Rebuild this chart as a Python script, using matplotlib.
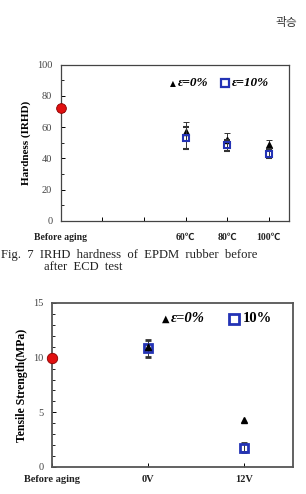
import matplotlib.pyplot as plt
import numpy as np

# top chart: hardness
hard_labels = ['Before aging', '', '', '60\u2103', '80\u2103', '100\u2103']
hard_before = 72
hard_pos = [3, 4, 5]
hard_tri = [57, 51.5, 48.5]
hard_tri_err = [6, 4.5, 3]
hard_sq = [53, 48.5, 43]
hard_sq_err = [7, 3.5, 3]

# bottom chart: tensile strength
ts_labels = ['Before aging', '0V', '12V']
ts_before = 10
ts_pos = [1, 2]
ts_tri = [11.0, 4.3]
ts_tri_err = [0.3, 0.15]
ts_sq = [10.85, 1.75]
ts_sq_err = [0.8, 0.4]

serif = ['Liberation Serif', 'Noto Sans CJK KR', 'DejaVu Sans']
blue = '#2433b5'
red = '#e01010'

fig = plt.figure(figsize=(3.06, 4.94), dpi=100)

# header and caption
fig.text(0.90, 0.955, '\uacfd\uc2b9', fontsize=8.5, family='Noto Sans CJK KR',
         color='#333333', ha='left', va='center')
fig.text(0.004, 0.483, 'Fig.  7  IRHD  hardness  of  EPDM  rubber  before',
         fontsize=9.1, family=serif, color='#222222', ha='left', va='center')
fig.text(0.145, 0.459, 'after  ECD  test', fontsize=9.1, family=serif,
         color='#222222', ha='left', va='center')

# ---- top panel ----
ax1 = fig.add_axes([0.198, 0.553, 0.746, 0.316])
ax1.errorbar(hard_pos, hard_tri, yerr=hard_tri_err, fmt='^', color='black',
             ms=4, elinewidth=0.7, capsize=2, capthick=0.7, ecolor='#333333', zorder=3)
ax1.errorbar(hard_pos, hard_sq, yerr=hard_sq_err, fmt='s', mfc='none', mec=blue,
             mew=1.5, ms=5, elinewidth=0.7, capsize=2, capthick=0.7, ecolor='#333333', zorder=4)
ax1.plot([0], [hard_before], 'o', color=red, mec='#8a0000', mew=0.6, ms=7, clip_on=False, zorder=5)
ax1.set_xlim(0, 5.48)
ax1.set_ylim(0, 100)
ax1.set_xticks(range(6))
ax1.set_xticklabels(hard_labels, fontsize=7, family=serif, fontweight='bold', color='#222222')
ax1.set_yticks(np.arange(0, 101, 20))
ax1.set_yticks(np.arange(0, 101, 10), minor=True)
ax1.set_yticklabels([str(v) for v in range(0, 101, 20)], fontsize=7.5, family=serif, color='#444444')
ax1.tick_params(direction='in', length=3, width=0.7, pad=6)
ax1.tick_params(axis='x', pad=9)
ax1.tick_params(which='minor', direction='in', length=2, width=0.6)
ax1.set_ylabel('Hardness (IRHD)', fontsize=8, family=serif, fontweight='bold', labelpad=4)
for s in ax1.spines.values():
    s.set_color('#444444')
    s.set_linewidth(0.9)
ax1.text(0.49, 0.88, '\u25b2', transform=ax1.transAxes, fontsize=5.5, ha='center', va='center',
         family='DejaVu Sans')
ax1.text(0.512, 0.88, '\u03b5=0%', transform=ax1.transAxes, fontsize=9.5,
         family=serif, fontweight='bold', style='italic', ha='left', va='center')
ax1.plot([0.72], [0.88], 's', mfc='none', mec=blue, mew=1.6, ms=5.5, transform=ax1.transAxes)
ax1.text(0.75, 0.88, '\u03b5=10%', transform=ax1.transAxes, fontsize=9.5,
         family=serif, fontweight='bold', style='italic', ha='left', va='center')

# ---- bottom panel ----
ax2 = fig.add_axes([0.170, 0.0547, 0.788, 0.332])
ax2.errorbar(ts_pos, ts_sq, yerr=ts_sq_err, fmt='s', mfc='none', mec=blue,
             mew=2, ms=6, elinewidth=0.7, capsize=2, capthick=0.7, ecolor='#333333', zorder=3)
ax2.errorbar(ts_pos, ts_tri, yerr=ts_tri_err, fmt='^', color='black',
             ms=5, elinewidth=0.7, capsize=0, ecolor='#333333', zorder=4)
ax2.plot([0], [ts_before], 'o', color=red, mec='#8a0000', mew=0.6, ms=7.5, clip_on=False, zorder=5)
ax2.set_xlim(0, 2.51)
ax2.set_ylim(0, 15)
ax2.set_xticks(range(3))
ax2.set_xticklabels(ts_labels, fontsize=7.5, family=serif, fontweight='bold', color='#222222')
ax2.set_yticks([0, 5, 10, 15])
ax2.set_yticks(np.arange(0, 16, 1), minor=True)
ax2.set_yticklabels(['0', '5', '10', '15'], fontsize=7.5, family=serif, color='#444444')
ax2.tick_params(direction='in', length=3, width=0.7, pad=6)
ax2.tick_params(axis='x', pad=6)
ax2.tick_params(which='minor', direction='in', length=2, width=0.6)
ax2.set_ylabel('Tensile Strength(MPa)', fontsize=8.5, family=serif, fontweight='bold', labelpad=4)
for s in ax2.spines.values():
    s.set_color('#555555')
    s.set_linewidth(1.3)
ax2.text(0.473, 0.905, '\u25b2', transform=ax2.transAxes, fontsize=7, ha='center', va='center',
         family='DejaVu Sans')
ax2.text(0.494, 0.905, '\u03b5=0%', transform=ax2.transAxes, fontsize=10.5,
         family=serif, fontweight='bold', style='italic', ha='left', va='center')
ax2.plot([0.755], [0.905], 's', mfc='none', mec=blue, mew=2, ms=6.5, transform=ax2.transAxes)
ax2.text(0.79, 0.905, '10%', transform=ax2.transAxes, fontsize=10.5,
         family=serif, fontweight='bold', ha='left', va='center')

fig.savefig('out.png', dpi=100)
